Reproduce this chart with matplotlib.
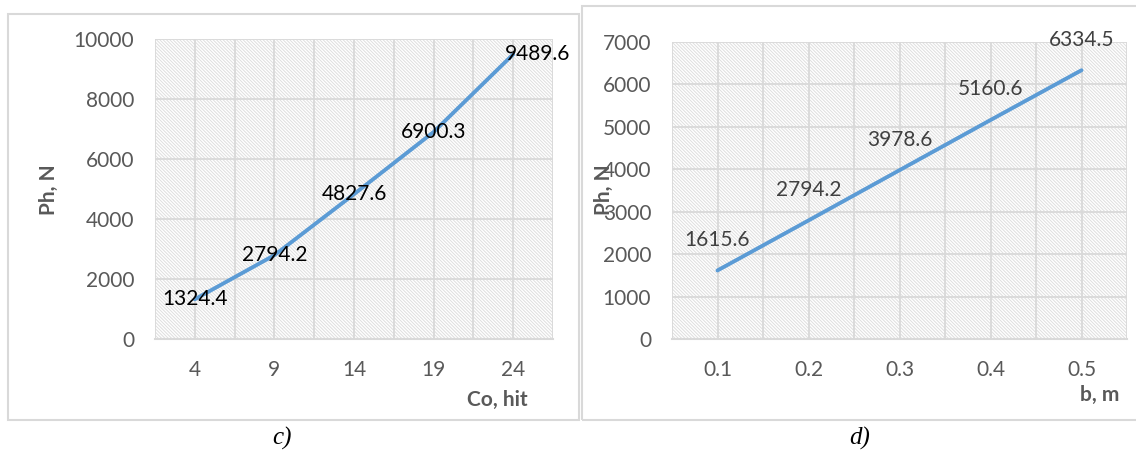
import matplotlib
matplotlib.use('Agg')
import matplotlib.pyplot as plt
from matplotlib.patches import Rectangle

# 数据
co_labels = ['4', '9', '14', '19', '24']
ph_co = [1324.4, 2794.2, 4827.6, 6900.3, 9489.6]

b_labels = ['0.1', '0.2', '0.3', '0.4', '0.5']
ph_b = [1615.6, 2794.2, 3978.6, 5160.6, 6334.5]

plt.rcParams['font.family'] = ['Lato', 'DejaVu Sans']
plt.rcParams['hatch.linewidth'] = 0.7

W, H = 1136, 457
fig = plt.figure(figsize=(W / 100, H / 100), dpi=100)

line_color = '#5B9BD5'
grid_color = '#d9d9d9'
tick_color = '#595959'
fs = 15


def px_box(x0, y0, x1, y1):
    # 像素坐标 -> figure 坐标
    return [x0 / W, 1 - y1 / H, (x1 - x0) / W, (y1 - y0) / H]


def setup_axes(ax, labels, ymax, ystep):
    n = len(labels)
    ax.set_xlim(-0.5, n - 0.5)
    ax.set_ylim(0, ymax)
    ax.set_xticks(range(n))
    ax.set_xticklabels(labels)
    ax.set_xticks([i + 0.5 for i in range(-1, n)], minor=True)
    ax.set_yticks(range(0, ymax + 1, ystep))
    ax.tick_params(axis='both', which='both', length=0, labelsize=fs,
                   labelcolor=tick_color)
    ax.tick_params(axis='y', pad=15)
    ax.tick_params(axis='x', pad=15)
    ax.grid(True, which='both', axis='x', color=grid_color, lw=1.3)
    ax.grid(True, which='major', axis='y', color=grid_color, lw=1.3)
    for s in ['left', 'right', 'top']:
        ax.spines[s].set_visible(False)
    ax.spines['bottom'].set_color(grid_color)
    ax.spines['bottom'].set_linewidth(1.5)
    # 斜线填充的绘图区
    ax.add_patch(Rectangle((0, 0), 1, 1, transform=ax.transAxes,
                           facecolor='white', edgecolor='#dedede',
                           hatch='\\' * 10, lw=0, zorder=0))
    ax.set_axisbelow(True)


# 外框
fig.patches.append(Rectangle((8 / W, 1 - 420 / H), (579 - 8) / W, (420 - 14) / H,
                             transform=fig.transFigure, fill=False,
                             edgecolor=grid_color, lw=1.5))
fig.patches.append(Rectangle((582 / W, 1 - 420 / H), (1140 - 582) / W, (420 - 6) / H,
                             transform=fig.transFigure, fill=False,
                             edgecolor=grid_color, lw=1.5))

# c) 左图
ax1 = fig.add_axes(px_box(155, 39, 553, 339))
setup_axes(ax1, co_labels, 10000, 2000)
x1 = list(range(len(ph_co)))
ax1.plot(x1, ph_co, color=line_color, lw=2.8, solid_capstyle='round', zorder=3)
for i, v in enumerate(ph_co):
    if i == len(ph_co) - 1:
        ax1.annotate(f'{v}', (i, v), xytext=(-6, 0), textcoords='offset points',
                     ha='left', va='center', fontsize=fs, color='black', zorder=4)
    else:
        ax1.annotate(f'{v}', (i, v), ha='center', va='center', fontsize=fs,
                     color='black', zorder=4)

# d) 右图
ax2 = fig.add_axes(px_box(672, 42, 1127, 339))
setup_axes(ax2, b_labels, 7000, 1000)
x2 = list(range(len(ph_b)))
ax2.plot(x2, ph_b, color=line_color, lw=2.8, solid_capstyle='round', zorder=3)
for i, v in enumerate(ph_b):
    ax2.annotate(f'{v}', (i, v), xytext=(0, 22), textcoords='offset points',
                 ha='center', va='center', fontsize=fs, color='#404040', zorder=4)

# 轴标题
fig.text(49 / W, 1 - 190 / H, 'Ph, N', rotation=90, ha='center', va='center',
         fontsize=fs, fontweight='bold', color=tick_color)
fig.text(497 / W, 1 - 400 / H, 'Co, hit', ha='center', va='center',
         fontsize=fs, fontweight='bold', color=tick_color)
fig.text(604 / W, 1 - 190 / H, 'Ph, N', rotation=90, ha='center', va='center',
         fontsize=fs, fontweight='bold', color=tick_color)
fig.text(1100 / W, 1 - 395 / H, 'b, m', ha='center', va='center',
         fontsize=fs, fontweight='bold', color=tick_color)

# 子图编号
fig.text(282 / W, 1 - 438 / H, 'c)', ha='center', va='center', fontsize=18,
         family='Liberation Serif', style='italic')
fig.text(860 / W, 1 - 438 / H, 'd)', ha='center', va='center', fontsize=18,
         family='Liberation Serif', style='italic')

fig.savefig('out.png', dpi=100)
